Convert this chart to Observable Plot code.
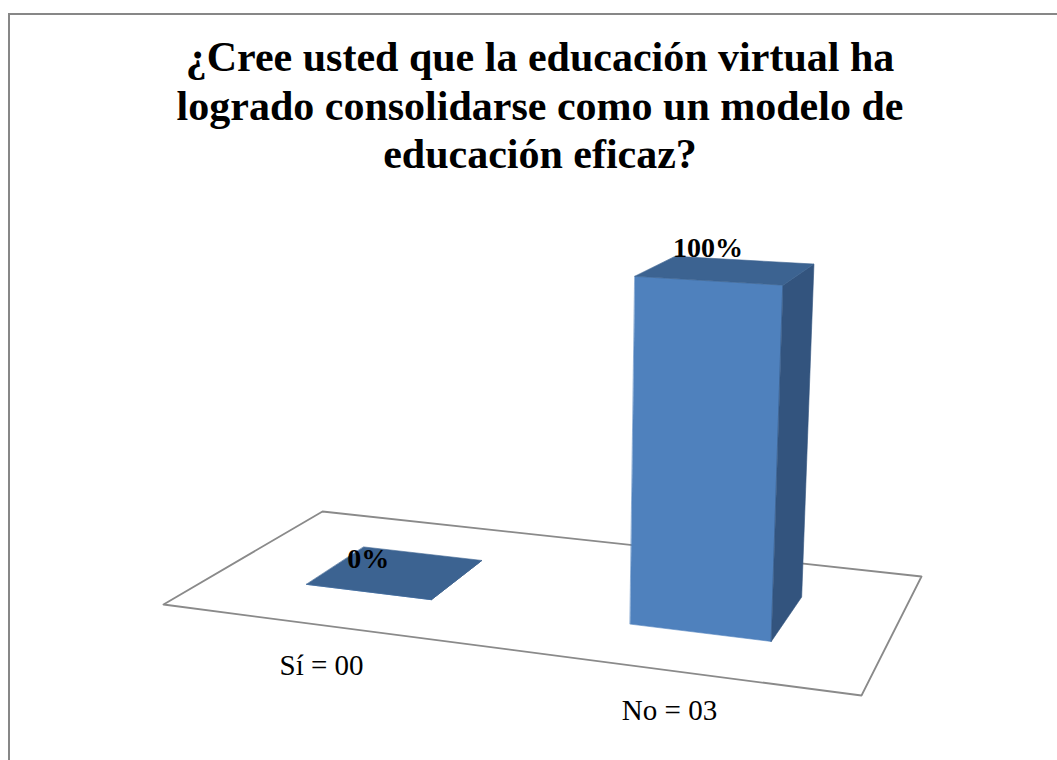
<!DOCTYPE html>
<html>
<head>
<meta charset="utf-8">
<script src="https://cdn.jsdelivr.net/npm/d3@7"></script>
<script src="https://cdn.jsdelivr.net/npm/@observablehq/plot@0.6"></script>
<style>
  html, body { margin: 0; padding: 0; background: #fff; overflow: hidden; width: 1057px; height: 760px; }
  #frame { position: absolute; left: 8px; top: 13px; width: 1100px; height: 820px; border: 2px solid #878787; box-sizing: border-box; pointer-events: none; }
  #title { position: absolute; left: 0; top: 0; width: 1080px; height: 190px; box-sizing: border-box; padding-top: 33px;
           text-align: center; font-family: 'Liberation Serif', serif; font-weight: 700; font-size: 42px; line-height: 48.5px; color: #000; }
  #chart { position: absolute; left: 0; top: 190px; }
</style>
</head>
<body>
<div id="frame"></div>
<div id="title">¿Cree usted que la educación virtual ha<br>logrado consolidarse como un modelo de<br>educación eficaz?</div>
<div id="chart"></div>
<script>
// ---- data ----
const categories = ["Sí = 00", "No = 03"];
const values = [0, 100];            // percent
const valueLabels = ["0%", "100%"];
const valueMax = 100;

// ---- 3D camera model (floor plane u: category axis 0..1, w: depth 0..1, z: value/valueMax) ----
const TOP = 190;
const cam = {a: 593.34, b: 216.14, c: 163, d: 6.52, e: -2.32, f: 604,
             g: -0.12156, h: 0.17745, p1: -23.44, p2: -351.01, p3: -0.04423};
function project(u, w, z) {
  const D = cam.g * u + cam.h * w + 1 + cam.p3 * z;
  return [(cam.a * u + cam.b * w + cam.c + cam.p1 * z) / D,
          (cam.d * u + cam.e * w + cam.f + cam.p2 * z) / D - TOP];
}
const n = categories.length;
const barFrac = 0.4, w0 = 0.3, w1 = 0.69;

function poly(id, kind, corners) {
  return corners.map(([u, w, z]) => { const [x, y] = project(u, w, z); return {id, kind, x, y}; });
}

const floor = poly("floor", "floor", [[0, 0, 0], [1, 0, 0], [1, 1, 0], [0, 1, 0]]);
const faces = [];
const labels = [];
categories.forEach((cat, i) => {
  const uc = (i + 0.5) / n, hw = barFrac / n / 2;
  const u0 = uc - hw, u1 = uc + hw;
  const z = values[i] / valueMax;
  faces.push(...poly(cat + "-front", "front", [[u0, w0, 0], [u1, w0, 0], [u1, w0, z], [u0, w0, z]]));
  faces.push(...poly(cat + "-side", "side", [[u1, w0, 0], [u1, w1, 0], [u1, w1, z], [u1, w0, z]]));
  faces.push(...poly(cat + "-top", "top", [[u0, w0, z], [u1, w0, z], [u1, w1, z], [u0, w1, z]]));
  const [cx, cy] = project(uc, 0, 0);
  const [vx, vy] = project(uc, w0, z);
  labels.push({cat, cx, cy, label: valueLabels[i], vx, vy});
});

const colors = {front: "#4f81bd", side: "#33547e", top: "#3c6391"};
const faceMark = (kind) => Plot.line(faces.filter(d => d.kind === kind),
  {x: "x", y: "y", z: "id", curve: "linear-closed", fill: colors[kind], stroke: colors[kind], strokeWidth: 0.6});

const chart = Plot.plot({
  width: 1057,
  height: 570,
  margin: 0,
  x: {type: "identity", axis: null},
  y: {type: "identity", axis: null},
  style: {background: "transparent", overflow: "visible"},
  marks: [
    Plot.line(floor, {x: "x", y: "y", z: "id", curve: "linear-closed", fill: "white", stroke: "#8a8a8a", strokeWidth: 1.8}),
    faceMark("front"),
    faceMark("side"),
    faceMark("top"),
    Plot.text(labels, {x: "cx", y: "cy", text: "cat", dy: 50, lineAnchor: "bottom", textAnchor: "middle",
      fontFamily: "Liberation Serif", fontSize: 29, fill: "#000"}),
    Plot.text(labels, {x: "vx", y: "vy", text: "label", dy: -24, lineAnchor: "bottom", textAnchor: "middle",
      fontFamily: "Liberation Serif", fontWeight: "bold", fontSize: 28, fill: "#000"})
  ]
});
document.getElementById("chart").appendChild(chart);
</script>
</body>
</html>
